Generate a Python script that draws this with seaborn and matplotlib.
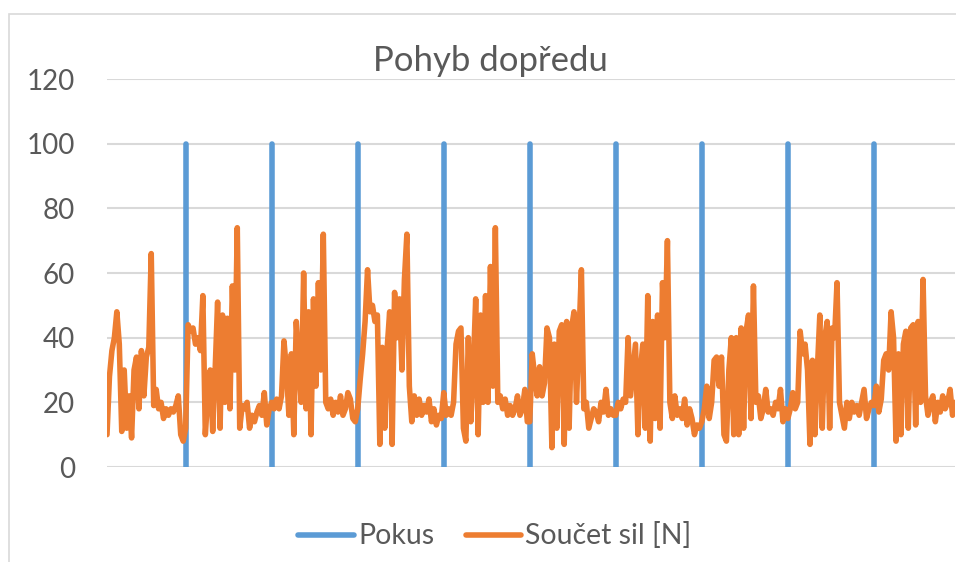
import numpy as np
import pandas as pd
import matplotlib
matplotlib.use("Agg")
import matplotlib.pyplot as plt
from matplotlib.patches import Rectangle
import seaborn as sns

# Data (one sample every ~2.46 px)
title = "Pohyb dopředu"
series_names = ["Pokus", "Součet sil [N]"]
yticks = [0, 20, 40, 60, 80, 100, 120]

# sample indices where a new trial ("Pokus") starts -> vertical 0..100 marks
trial_starts = [32, 67, 102, 137, 172, 207, 242, 277, 312]
trial_levels = [0, 100]

force = [
    # trial 0
    10, 28, 36, 40, 48, 38, 11, 30, 12, 22, 9, 30, 34, 18, 36, 22,
    34, 37, 66, 19, 24, 18, 20, 15, 18, 16, 18, 17, 19, 22, 10, 8,
    # trial 1
    12, 44, 42, 43, 38, 40, 36, 53, 10, 22, 30, 11, 30, 51, 12, 47,
    20, 46, 18, 56, 30, 74, 12, 19, 18, 20, 12, 16, 14, 17, 19, 16,
    23, 13, 18,
    # trial 2
    20, 18, 21, 18, 22, 39, 30, 16, 35, 10, 45, 32, 20, 60, 18, 48,
    10, 52, 25, 57, 30, 72, 20, 18, 21, 16, 20, 17, 22, 16, 18, 23,
    21, 15, 14,
    # trial 3
    18, 27, 35, 45, 61, 48, 50, 45, 47, 7, 37, 12, 37, 48, 7, 54,
    40, 52, 30, 58, 72, 25, 14, 22, 16, 21, 16, 19, 17, 21, 14, 18,
    13, 16, 15,
    # trial 4
    23, 16, 18, 16, 20, 38, 42, 43, 12, 8, 40, 14, 30, 52, 10, 47,
    20, 53, 20, 62, 25, 74, 20, 22, 18, 21, 16, 19, 16, 18, 22, 16,
    18, 24, 14,
    # trial 5
    14, 35, 28, 22, 31, 22, 26, 43, 40, 6, 38, 12, 42, 44, 7, 45,
    12, 43, 48, 20, 40, 61, 18, 20, 12, 15, 18, 17, 14, 20, 17, 24,
    16, 18, 16,
    # trial 6
    16, 20, 18, 21, 20, 40, 22, 30, 38, 10, 30, 38, 12, 53, 8, 45,
    15, 47, 12, 57, 40, 70, 20, 15, 22, 16, 18, 15, 21, 13, 18, 15,
    10, 13, 12,
    # trial 7
    14, 18, 25, 15, 20, 33, 34, 25, 34, 10, 8, 30, 40, 10, 40, 10,
    43, 12, 42, 47, 15, 56, 20, 22, 15, 18, 24, 17, 18, 16, 20, 18,
    24, 14, 18,
    # trial 8
    15, 18, 23, 18, 20, 42, 35, 38, 30, 7, 33, 10, 30, 47, 12, 40,
    45, 12, 43, 40, 57, 20, 16, 12, 20, 15, 20, 17, 19, 16, 20, 24,
    15, 18, 20,
    # trial 9
    19, 25, 17, 21, 33, 35, 30, 48, 40, 8, 35, 10, 38, 42, 12, 43,
    44, 13, 45, 20, 58, 22, 16, 20, 22, 14, 20, 17, 22, 18, 20, 24,
    16, 20,
]

# build one long table for seaborn
rows = []
for u, s in enumerate(trial_starts):
    for v in trial_levels:
        rows.append({"x": s, "y": v, "serie": series_names[0], "unit": u})
for i, v in enumerate(force):
    rows.append({"x": i, "y": v, "serie": series_names[1], "unit": 100})
df = pd.DataFrame(rows)

sns.set_theme(style="white")
plt.rcParams["font.family"] = ["Lato", "DejaVu Sans"]
txt = "#595959"
grid = "#d9d9d9"

fig = plt.figure(figsize=(9.56, 5.62), dpi=100)
ax = fig.add_axes([107 / 956, 1 - 467 / 562, 848 / 956, 388 / 562])

sns.lineplot(data=df, x="x", y="y", hue="serie", units="unit",
             estimator=None, sort=False,
             palette={series_names[0]: "#5B9BD5", series_names[1]: "#ED7D31"},
             linewidth=4.0, solid_capstyle="round", solid_joinstyle="round",
             ax=ax, legend=True)

ax.set_xlim(0, 345)
ax.set_ylim(0, 120)
ax.set_yticks(yticks)
ax.set_xticks([])
ax.set_xlabel("")
ax.set_ylabel("")
ax.grid(axis="y", color=grid, linewidth=1.5, zorder=0)
ax.set_axisbelow(True)
for sp in ax.spines.values():
    sp.set_visible(False)
ax.tick_params(axis="y", length=0, pad=23, labelsize=20, labelcolor=txt)

handles, labels = ax.get_legend_handles_labels()
ax.get_legend().remove()
for h in handles:
    h.set_linewidth(4.0)
    h.set_solid_capstyle("round")
fig.legend(handles, labels, loc="center", bbox_to_anchor=(495 / 956, 1 - 536 / 562),
           ncol=2, frameon=False, fontsize=20.5, labelcolor=txt,
           handlelength=1.95, handletextpad=0.15, columnspacing=1.1)

fig.text(490 / 956, 1 - 71 / 562, title, ha="center", va="baseline",
         fontsize=25, color=txt)

# light chart-area border
fig.patches.append(Rectangle((9 / 956, -0.1), 1.2, 1 - 14 / 562 + 0.1,
                             transform=fig.transFigure, fill=False,
                             edgecolor=grid, linewidth=1.2))

fig.savefig("out.png", dpi=100)
